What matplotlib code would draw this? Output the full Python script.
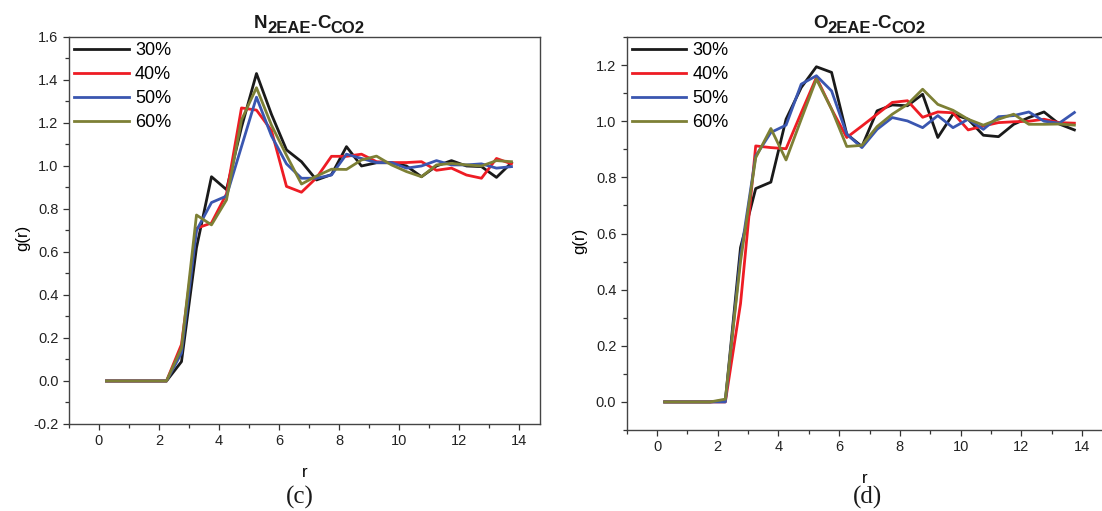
import matplotlib
matplotlib.use("Agg")
import matplotlib.pyplot as plt
from matplotlib.ticker import MultipleLocator, FuncFormatter

plt.rcParams['font.family'] = ['Liberation Sans', 'DejaVu Sans']

r = [0.25, 0.75, 1.25, 1.75, 2.25, 2.75, 3.25, 3.75, 4.25, 4.75,
     5.25, 5.75, 6.25, 6.75, 7.25, 7.75, 8.25, 8.75, 9.25, 9.75,
     10.25, 10.75, 11.25, 11.75, 12.25, 12.75, 13.25, 13.75]

labels = ["30%", "40%", "50%", "60%"]
colors = ["#1a1a1a", "#ee1c24", "#3a56b0", "#7d8035"]

# N2EAE - CCO2
n_30 = [0, 0, 0, 0, 0, 0.09, 0.62, 0.95, 0.89, 1.18,
        1.43, 1.24, 1.075, 1.02, 0.935, 0.96, 1.09, 1.0, 1.015, 1.015,
        1.0, 0.95, 1.0, 1.025, 1.0, 0.997, 0.947, 1.015]
n_40 = [0, 0, 0, 0, 0, 0.17, 0.71, 0.735, 0.87, 1.27,
        1.26, 1.165, 0.905, 0.878, 0.945, 1.045, 1.045, 1.055, 1.02, 1.016,
        1.016, 1.02, 0.98, 0.99, 0.958, 0.943, 1.035, 1.01]
n_50 = [0, 0, 0, 0, 0, 0.13, 0.70, 0.83, 0.86, 1.09,
        1.32, 1.14, 1.01, 0.943, 0.943, 0.958, 1.055, 1.035, 1.016, 1.016,
        0.99, 1.0, 1.025, 1.005, 1.005, 1.01, 0.99, 0.997]
n_60 = [0, 0, 0, 0, 0, 0.153, 0.772, 0.726, 0.842, 1.214,
        1.364, 1.19, 1.05, 0.916, 0.953, 0.985, 0.984, 1.028, 1.046, 1.005,
        0.974, 0.95, 1.005, 1.012, 1.005, 1.0, 1.025, 1.02]

# O2EAE - CCO2
o_30 = [0, 0, 0, 0, 0.005, 0.55, 0.76, 0.783, 1.007, 1.12,
        1.194, 1.174, 0.954, 0.91, 1.037, 1.058, 1.055, 1.096, 0.942, 1.025,
        1.007, 0.95, 0.945, 0.989, 1.013, 1.033, 0.99, 0.969]
o_40 = [0, 0, 0, 0, 0, 0.35, 0.912, 0.906, 0.902, 1.03,
        1.156, 1.043, 0.942, 0.983, 1.025, 1.067, 1.073, 1.014, 1.033, 1.03,
        0.969, 0.983, 0.995, 0.998, 1.0, 1.007, 0.995, 0.993]
o_50 = [0, 0, 0, 0, 0, 0.52, 0.876, 0.96, 0.986, 1.132,
        1.162, 1.108, 0.954, 0.906, 0.971, 1.013, 1.001, 0.977, 1.02, 0.977,
        1.007, 0.971, 1.016, 1.02, 1.033, 1.0, 0.993, 1.031]
o_60 = [0, 0, 0, 0, 0.01, 0.5, 0.87, 0.974, 0.862, 1.007,
        1.15, 1.043, 0.91, 0.914, 0.981, 1.025, 1.06, 1.114, 1.06, 1.039,
        1.007, 0.986, 1.007, 1.025, 0.989, 0.989, 0.99, 0.986]

W, H = 1102, 511
fig = plt.figure(figsize=(W / 100, H / 100), dpi=100)
ax1 = fig.add_axes([0.0626, 0.1703, 0.4274, 0.7573])
ax2 = fig.add_axes([0.5687, 0.1585, 0.4313, 0.7691])
renderer = fig.canvas.get_renderer()


def rich_title(center_px, parts):
    # parts: (text, size, baseline in px from top)
    texts = []
    for s, size, base in parts:
        t = fig.text(0, 1 - base / H, s, fontsize=size, fontweight='bold',
                     va='baseline', ha='left', color='#1a1a1a')
        texts.append(t)
    widths = [t.get_window_extent(renderer).width for t in texts]
    x = center_px - sum(widths) / 2
    for t, w in zip(texts, widths):
        t.set_x(x / W)
        x += w


panels = [
    (ax1, [n_30, n_40, n_50, n_60], "N", (-0.2, 1.6), 14.7, "(c)", 309, 300),
    (ax2, [o_30, o_40, o_50, o_60], "O", (-0.1, 1.3), 14.66, "(d)", 869, 868),
]

for ax, series, atom, ylim, xmax, tag, tcenter, tagx in panels:
    for ys, lab, c in zip(series, labels, colors):
        ax.plot(r, ys, color=c, lw=2.0, label=lab)
    ax.set_xlim(-1, xmax)
    ax.set_ylim(*ylim)
    ax.xaxis.set_major_locator(MultipleLocator(2))
    ax.xaxis.set_minor_locator(MultipleLocator(1))
    ax.yaxis.set_major_locator(MultipleLocator(0.2))
    ax.yaxis.set_minor_locator(MultipleLocator(0.1))
    ax.yaxis.set_major_formatter(FuncFormatter(
        lambda v, p: f"{v:.1f}".replace("-0.0", "0.0")))
    ax.tick_params(which='both', direction='out', colors='#333333',
                   labelcolor='#222222', labelsize=10.5, width=0.9)
    ax.tick_params(which='major', length=4)
    ax.tick_params(which='minor', length=3)
    for s in ax.spines.values():
        s.set_color('#444444')
        s.set_linewidth(1.0)
    ax.set_xlabel("r", fontsize=12, labelpad=12)
    ax.set_ylabel("g(r)", fontsize=12)
    ax.yaxis.set_label_coords(-0.083, 0.48)
    ax.legend(loc='upper left', frameon=False, fontsize=13,
              handlelength=3.0, handletextpad=0.35, labelspacing=0.38,
              borderaxespad=0.1, borderpad=0.2)
    fig.text(tagx / W, 1 - 497 / H, tag, ha='center', va='center',
             fontsize=18, family='Liberation Serif', color='#1a1a1a')
    rich_title(tcenter, [(atom, 13.5, 28.3), ("2EAE", 12, 33.3),
                         ("-", 13.5, 30.0), ("C", 13.5, 28.3),
                         ("CO2", 12, 33.3)])

ax2.spines['right'].set_visible(False)

fig.savefig("out.png", dpi=100)
